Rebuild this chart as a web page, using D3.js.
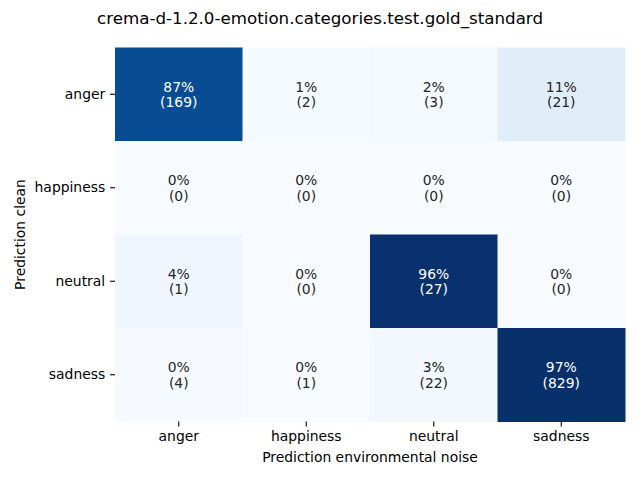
<!DOCTYPE html>
<html><head><meta charset="utf-8">
<script src="https://cdn.jsdelivr.net/npm/d3@7"></script>
<style>body{margin:0;background:#fff}svg{display:block}text{font-family:"DejaVu Sans",sans-serif}</style>
</head><body>
<script>
const title = "crema-d-1.2.0-emotion.categories.test.gold_standard";
const rowLabels = ["anger","happiness","neutral","sadness"];
const colLabels = ["anger","happiness","neutral","sadness"];
const xTitle = "Prediction environmental noise";
const yTitle = "Prediction clean";
const counts = [
  [169, 2, 3, 21],
  [0, 0, 0, 0],
  [1, 0, 27, 0],
  [4, 1, 22, 829]
];

const W = 640, H = 480;
const m = {left:115, right:625, top:47.5, bottom:421.5};
const svg = d3.select("body").append("svg").attr("width", W).attr("height", H);

const frac = counts.map(r => { const s = d3.sum(r); return r.map(v => s ? v / s : 0); });
const vmax = d3.max(frac.flat()), vmin = d3.min(frac.flat());
const blues = ["#f7fbff","#deebf7","#c6dbef","#9ecae1","#6baed6","#4292c6","#2171b5","#08519c","#08306b"];
const cmap = d3.scaleLinear().domain(blues.map((_, i) => vmin + (vmax - vmin) * i / 8)).range(blues).clamp(true);

const x = d3.scaleBand().domain(colLabels).range([m.left, m.right]);
const y = d3.scaleBand().domain(rowLabels).range([m.top, m.bottom]);

const cells = [];
rowLabels.forEach((r, i) => colLabels.forEach((c, j) => cells.push({r, c, n: counts[i][j], f: frac[i][j]})));

function lum(col) {
  const c = d3.rgb(col);
  const f = v => { v /= 255; return v <= 0.03928 ? v / 12.92 : Math.pow((v + 0.055) / 1.055, 2.4); };
  return 0.2126 * f(c.r) + 0.7152 * f(c.g) + 0.0722 * f(c.b);
}

svg.append("g").selectAll("rect").data(cells).join("rect")
  .attr("x", d => x(d.c)).attr("y", d => y(d.r))
  .attr("width", x.bandwidth() + 0.5).attr("height", y.bandwidth() + 0.5)
  .attr("fill", d => cmap(d.f));

const ann = svg.append("g").selectAll("text").data(cells).join("text")
  .attr("text-anchor", "middle").attr("font-size", "13.9px")
  .attr("fill", d => lum(cmap(d.f)) > 0.408 ? "#262626" : "#ffffff")
  .attr("transform", d => `translate(${x(d.c) + x.bandwidth() / 2},${y(d.r) + y.bandwidth() / 2})`);
ann.append("tspan").attr("x", 0).attr("y", -2.5).text(d => Math.round(d.f * 100) + "%");
ann.append("tspan").attr("x", 0).attr("y", 13).text(d => "(" + d.n + ")");

const xAxis = svg.append("g").attr("transform", `translate(0,${m.bottom})`)
  .call(d3.axisBottom(x).tickSize(4.9).tickPadding(4.9));
xAxis.select(".domain").remove();
xAxis.selectAll("text").attr("font-size", "13.9px").attr("fill", "#000").attr("font-family", "DejaVu Sans");
xAxis.selectAll("line").attr("stroke", "#000").attr("stroke-width", 1.1);

const yAxis = svg.append("g").attr("transform", `translate(${m.left},0)`)
  .call(d3.axisLeft(y).tickSize(4.9).tickPadding(4.9));
yAxis.select(".domain").remove();
yAxis.selectAll("text").attr("font-size", "13.9px").attr("fill", "#000").attr("font-family", "DejaVu Sans");
yAxis.selectAll("line").attr("stroke", "#000").attr("stroke-width", 1.1);

svg.append("text").attr("x", (m.left + m.right) / 2).attr("y", 462)
  .attr("text-anchor", "middle").attr("font-size", "13.9px").text(xTitle);
svg.append("text").attr("transform", `translate(25,${(m.top + m.bottom) / 2}) rotate(-90)`)
  .attr("text-anchor", "middle").attr("font-size", "13.9px").text(yTitle);
svg.append("text").attr("x", W / 2).attr("y", 24)
  .attr("text-anchor", "middle").attr("font-size", "16.7px").text(title);
</script>
</body></html>
